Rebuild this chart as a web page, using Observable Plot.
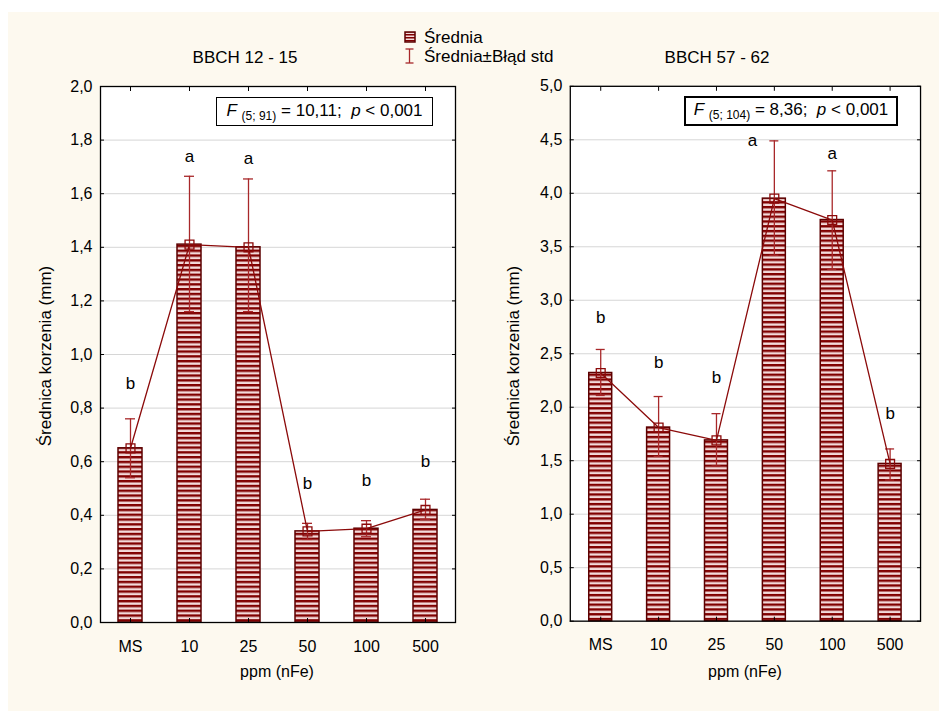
<!DOCTYPE html>
<html>
<head>
<meta charset="utf-8">
<script src="https://cdn.jsdelivr.net/npm/d3@7"></script>
<script src="https://cdn.jsdelivr.net/npm/@observablehq/plot@0.6"></script>
<style>
  body { margin: 0; background: #ffffff; font-family: "Liberation Sans", Arial, sans-serif; }
  #wrap { position: relative; width: 939px; height: 711px; overflow: hidden; }
  #bg { position: absolute; left: 8px; top: 12px; right: 0; bottom: 0; background: #fdf9ef; }
  .abs { position: absolute; white-space: nowrap; font-size: 16px; color: #000; line-height: 1; }
  .panel { position: absolute; top: 0; }
  .fbox { position: absolute; background: #fff; border: 1.5px solid #000; box-sizing: border-box;
          display: flex; align-items: center; justify-content: center; font-size: 17px; white-space: nowrap; }
  .fbox sub { font-size: 12px; vertical-align: -4px; }
  .rot { transform: translate(-50%, -50%) rotate(-90deg); }
</style>
</head>
<body>
<div id="wrap">
  <div id="bg"></div>
  <div id="left" class="panel" style="left:0px"></div>
  <div id="right" class="panel" style="left:470px"></div>

  <div class="abs" style="left:245px; top:57px; transform:translate(-50%,-50%); font-size:17px">BBCH 12 - 15</div>
  <div class="abs" style="left:717px; top:57px; transform:translate(-50%,-50%); font-size:17px">BBCH 57 - 62</div>

  <div class="abs rot" style="left:45px; top:356px; font-size:17px">Średnica korzenia (mm)</div>
  <div class="abs rot" style="left:513px; top:356px; font-size:17px">Średnica korzenia (mm)</div>

  <div class="abs" style="left:277px; top:672px; transform:translate(-50%,-50%)">ppm (nFe)</div>
  <div class="abs" style="left:745px; top:672px; transform:translate(-50%,-50%)">ppm (nFe)</div>

  <div class="fbox" style="left:216px; top:97px; width:217px; height:29px">
    <span><i>F</i>&nbsp;<sub>(5; 91)</sub> = 10,11;&nbsp; <i>p</i> &lt; 0,001</span>
  </div>
  <div class="fbox" style="left:684px; top:96px; width:214px; height:30px; border-width:2px">
    <span><i>F</i>&nbsp;<sub>(5; 104)</sub> = 8,36;&nbsp; <i>p</i> &lt; 0,001</span>
  </div>

  <svg class="abs" style="left:403px; top:31px" width="14" height="34">
    <defs>
      <pattern id="legstripes" patternUnits="userSpaceOnUse" width="10" height="3">
        <rect width="10" height="3" fill="#f3dada"></rect>
        <rect width="10" height="1.5" fill="#800000"></rect>
      </pattern>
    </defs>
    <rect x="2" y="1" width="10" height="10" fill="url(#legstripes)" stroke="#5c0000" stroke-width="1.5"></rect>
    <line x1="6.5" x2="6.5" y1="18" y2="32" stroke="#a8282a" stroke-width="1.3"></line>
    <line x1="2.5" x2="10.5" y1="18" y2="18" stroke="#a8282a" stroke-width="1.3"></line>
    <line x1="2.5" x2="10.5" y1="32" y2="32" stroke="#a8282a" stroke-width="1.3"></line>
  </svg>
  <div class="abs" style="left:424px; top:37px; transform:translateY(-50%); font-size:17px">Średnia</div>
  <div class="abs" style="left:424px; top:56px; transform:translateY(-50%); font-size:17px">Średnia±Błąd std</div>
</div>

<script>
// ---- data ----
const categories = ["MS", "10", "25", "50", "100", "500"];

// BBCH 12 - 15
const meanEarly   = [0.65, 1.41, 1.40, 0.34, 0.35, 0.42];
const seHighEarly = [0.76, 1.665, 1.655, 0.37, 0.38, 0.46];
const seLowEarly  = [0.54, 1.16, 1.16, 0.31, 0.32, 0.385];
const lettersEarly = ["b", "a", "a", "b", "b", "b"];
const letterYEarly = [0.89, 1.74, 1.73, 0.52, 0.53, 0.60];
const ticksEarly = [0, 0.2, 0.4, 0.6, 0.8, 1.0, 1.2, 1.4, 1.6, 1.8, 2.0];

// BBCH 57 - 62
const meanLate   = [2.32, 1.81, 1.69, 3.95, 3.75, 1.47];
const seHighLate = [2.54, 2.10, 1.94, 4.49, 4.21, 1.61];
const seLowLate  = [2.11, 1.54, 1.45, 3.42, 3.29, 1.32];
const lettersLate = ["b", "b", "b", "a", "a", "b"];
const letterYLate = [2.84, 2.42, 2.28, 4.49, 4.37, 1.94];
const ticksLate = [0, 0.5, 1.0, 1.5, 2.0, 2.5, 3.0, 3.5, 4.0, 4.5, 5.0];

const fmt = d => d3.format(".1f")(d).replace(".", ",");
const BAR_STROKE = "#5c0000";
const ERR = "#a8282a";
const LINE = "#8b0a0a";

function panel({mean, hi, lo, letters, letterY, ticks, yMax, marginRight, patId, shiftIdx}) {
  const rows = categories.map((c, i) => ({c, m: mean[i], hi: hi[i], lo: lo[i], l: letters[i], ly: letterY[i], i}));
  const svg = Plot.plot({
    width: 470,
    height: 711,
    marginLeft: 100,
    marginRight,
    marginTop: 86,
    marginBottom: 89,
    style: {background: "transparent", fontFamily: "Liberation Sans, Arial, sans-serif", fontSize: "16px", color: "#000"},
    x: {domain: categories, paddingInner: 0.6, paddingOuter: 0.3, label: null},
    y: {domain: [0, yMax], label: null},
    marks: [
      Plot.frame({fill: "white", stroke: "none"}),
      Plot.gridY(ticks, {stroke: "#d6d6d6", strokeOpacity: 1, strokeWidth: 1}),
      Plot.barY(rows, {x: "c", y: "m", fill: `url(#${patId})`, stroke: BAR_STROKE, strokeWidth: 1.5}),
      Plot.ruleX(rows, {x: "c", y1: "lo", y2: "hi", stroke: ERR, strokeWidth: 1.3}),
      Plot.tickY(rows, {x: "c", y: "hi", stroke: ERR, strokeWidth: 1.3, insetLeft: 7, insetRight: 7}),
      Plot.tickY(rows, {x: "c", y: "lo", stroke: ERR, strokeWidth: 1.3, insetLeft: 7, insetRight: 7}),
      Plot.line(rows, {x: "c", y: "m", stroke: LINE, strokeWidth: 1.3}),
      Plot.dot(rows, {x: "c", y: "m", symbol: "square", r: 5, stroke: LINE, strokeWidth: 1.3, fill: "none"}),
      Plot.text(rows.filter(d => d.i !== shiftIdx), {x: "c", y: "ly", text: "l", fontSize: 17, fill: "#000"}),
      Plot.text(rows.filter(d => d.i === shiftIdx), {x: "c", y: "ly", text: "l", fontSize: 17, fill: "#000", dx: -22}),
      Plot.axisY(ticks, {tickSize: 0, tickPadding: 8, tickFormat: fmt, label: null, fontSize: 16}),
      Plot.axisY(ticks, {tickSize: 4, dx: 4, text: null, label: null}),
      Plot.axisY(ticks, {anchor: "right", tickSize: 4, dx: -4, text: null, label: null}),
      Plot.axisX({tickSize: 0, tickPadding: 18, label: null, fontSize: 16}),
      Plot.axisX({tickSize: 4, dy: -4, text: null, label: null}),
      Plot.axisX({anchor: "top", tickSize: 4, dy: 4, text: null, label: null}),
      Plot.frame({stroke: "#000", strokeWidth: 1.3})
    ]
  });
  const defs = d3.select(svg).insert("defs", ":first-child");
  const pat = defs.append("pattern").attr("id", patId)
    .attr("patternUnits", "userSpaceOnUse").attr("width", 10).attr("height", 4.8);
  pat.append("rect").attr("width", 10).attr("height", 4.8).attr("fill", "#f3dada");
  pat.append("rect").attr("width", 10).attr("height", 2.4).attr("fill", "#800000");
  return svg;
}

document.getElementById("left").appendChild(panel({
  mean: meanEarly, hi: seHighEarly, lo: seLowEarly, letters: lettersEarly, letterY: letterYEarly,
  ticks: ticksEarly, yMax: 2.0, marginRight: 15, patId: "stripesL", shiftIdx: -1
}));
document.getElementById("right").appendChild(panel({
  mean: meanLate, hi: seHighLate, lo: seLowLate, letters: lettersLate, letterY: letterYLate,
  ticks: ticksLate, yMax: 5.0, marginRight: 19, patId: "stripesR", shiftIdx: 3
}));
</script>
</body>
</html>
